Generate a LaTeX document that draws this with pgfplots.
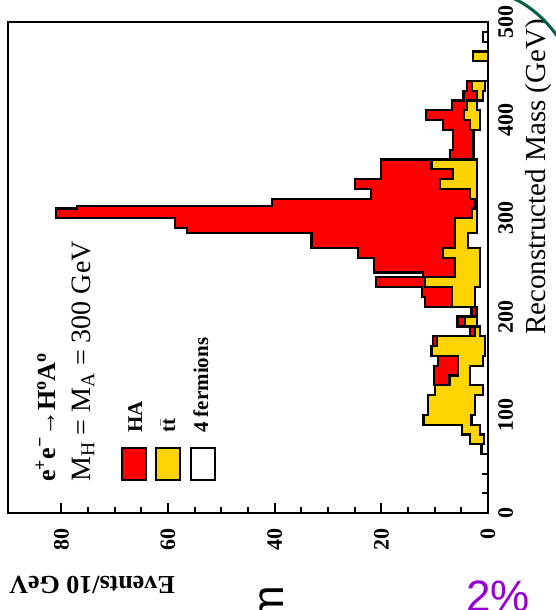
\documentclass[border=0pt]{standalone}
\usepackage{pgfplots}
\pgfplotsset{compat=1.18}
\usepackage{fontspec}
\setmainfont{Liberation Serif}
\newfontfamily\sansf{Liberation Sans}
\definecolor{hared}{RGB}{255,0,0}
\definecolor{ttyel}{RGB}{255,212,0}
\definecolor{slidegreen}{RGB}{0,95,70}
\definecolor{slidepurple}{RGB}{150,0,210}
\begin{document}
\begin{tikzpicture}
\useasboundingbox (0pt,0pt) rectangle (555pt,610pt);
\begin{axis}[
  at={(8pt,97pt)}, anchor=south west,
  width=480pt, height=491pt, scale only axis,
  x dir=reverse,
  xmin=0, xmax=90, ymin=0, ymax=500,
  xtick={0,20,40,60,80}, minor x tick num=3,
  ytick={0,100,200,300,400,500}, minor y tick num=4,
  xtick pos=bottom, ytick pos=right,
  major tick length=10pt, minor tick length=6pt,
  tick style={line width=2pt, black},
  axis line style={line width=2.6pt},
  /pgf/number format/assume math mode=true,
  xticklabel style={rotate=90, anchor=east, inner sep=0pt,
    font=\bfseries\fontsize{22}{22}\selectfont},
  yticklabel style={rotate=90, anchor=north, inner sep=0pt,
    font=\bfseries\fontsize{22}{22}\selectfont},
  xticklabel shift=15pt, yticklabel shift=10pt,
  clip=false,
]
% total = HA + ttbar + 4 fermions (value, lower bin edge)
\addplot[const plot mark right, fill=hared, draw=black, line width=2.2pt]
coordinates {(0,60) (1.2,60) (3.4,70) (4.9,80) (12.1,90) (11.2,100) (9.9,120)
(10.1,130) (9.3,150) (10.6,160) (10.3,170) (3.4,180) (5.7,190) (3.1,200)
(11.8,210) (12.3,220) (21.0,230) (12.2,240) (21.4,245) (24.3,260) (33.1,270)
(56.4,285) (58.7,290) (81,300) (77,310) (40.5,313) (22,320) (25,330) (20,340) (7.1,360)
(6.5,370) (8.4,390) (11.6,400) (6.8,410) (4.6,420) (3.9,430) (0,440) (2.8,460)
(0,470) (1.0,480) (0,490)} -- cycle;
% ttbar + 4 fermions
\addplot[const plot mark right, fill=ttyel, draw=black, line width=2.2pt]
coordinates {(0,60) (1.2,60) (3.4,70) (4.9,80) (12.1,90) (11.2,100) (9.9,120)
(7.2,130) (5.6,140) (10.6,160) (9.6,170) (2.4,180) (4.3,190) (2.3,200) (6.8,210)
(11.8,230) (6.2,240) (8.4,260) (6.2,270) (3.0,300) (2.5,310) (3.4,320) (9.0,330)
(6.6,340) (10.6,350) (2.7,360) (3.4,390) (4.5,400) (4.0,410) (2.0,420) (3.0,430)
(0,440) (2.8,460) (0,470) (1.0,480) (0,490)} -- cycle;
% 4 fermions
\addplot[const plot mark right, fill=white, draw=black, line width=2.2pt]
coordinates {(0,60) (1.2,60) (0.8,70) (1.5,80) (3.1,90) (2.4,100) (1.0,120)
(3.4,130) (1.0,150) (0.5,160) (1.5,180) (2.1,190) (2.5,210) (1.5,230) (3.7,270)
(2.0,285) (2.7,360) (1.5,390) (2.0,410) (1.0,420) (0.5,430) (0,440) (1.0,480)
(0,490)} -- cycle;
\end{axis}
% annotations
\node[rotate=90, anchor=base west, inner sep=0pt, font=\bfseries\fontsize{26}{26}\selectfont]
  at (55pt,128pt) {e\textsuperscript{+}e\textsuperscript{\textminus}→H\textsuperscript{o}A\textsuperscript{o}};
\node[rotate=90, anchor=base west, inner sep=0pt, font=\fontsize{28}{28}\selectfont]
  at (90pt,128pt) {M\textsubscript{H} = M\textsubscript{A} = 300 GeV};
% legend
\draw[fill=hared, line width=2pt] (121.7pt,130pt) rectangle (145.7pt,162pt);
\draw[fill=ttyel, line width=2pt] (156pt,130pt) rectangle (180pt,162pt);
\draw[fill=white, line width=2pt] (190.7pt,130pt) rectangle (215pt,162pt);
\node[rotate=90, anchor=base west, inner sep=0pt, font=\bfseries\fontsize{21}{21}\selectfont]
  at (142pt,177pt) {HA};
\node[rotate=90, anchor=base west, inner sep=0pt, font=\bfseries\fontsize{21}{21}\selectfont]
  at (175pt,177pt) {t$\bar{\textrm{t}}$};
\node[rotate=90, anchor=base west, inner sep=0pt, font=\bfseries\fontsize{21}{21}\selectfont]
  at (208pt,177pt) {4 fermions};
% axis titles
\node[rotate=90, anchor=base west, inner sep=0pt, font=\fontsize{29}{29}\selectfont]
  at (545pt,275pt) {Reconstructed Mass (GeV)};
\node[rotate=180, anchor=base west, inner sep=0pt, font=\bfseries\fontsize{26}{26}\selectfont]
  at (175pt,33pt) {Events/10 GeV};
% slide remnants
\draw[slidegreen, line width=3pt] (508pt,614pt) .. controls (528pt,606pt) and (545pt,592pt) .. (560pt,570pt);
\node[rotate=90, anchor=center, inner sep=0pt, font=\sansf\fontsize{44}{44}\selectfont]
  at (272pt,6pt) {m};
\node[anchor=north, inner sep=0pt, text=slidepurple, font=\sansf\fontsize{44}{44}\selectfont]
  at (498pt,29pt) {2\%};
\end{tikzpicture}
\end{document}
